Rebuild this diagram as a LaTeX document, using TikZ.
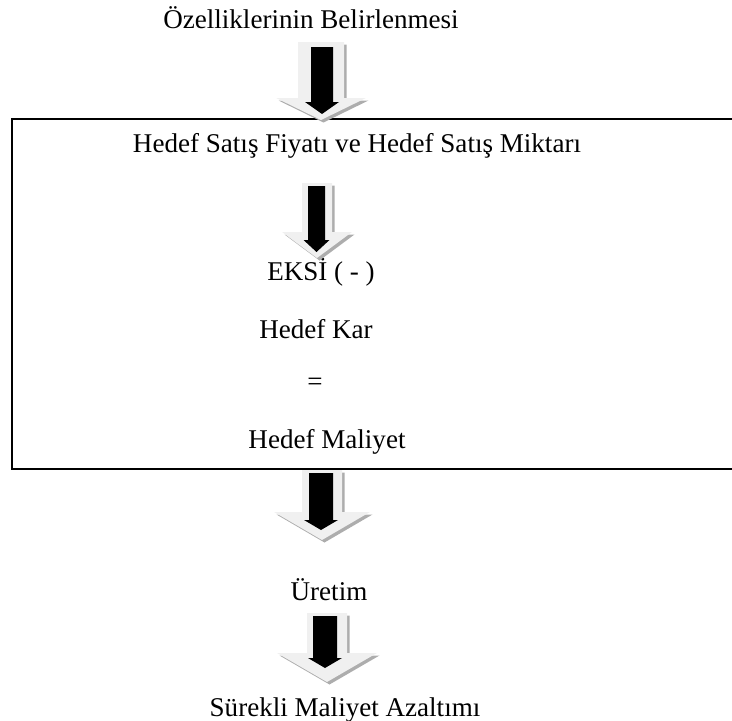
\documentclass[tikz,border=0pt]{standalone}
\usepackage{fontspec}
\setmainfont{Liberation Serif}
\begin{document}
% block arrow: #1 cx, #2 top, #3 head start, #4 tip, #5 shaft half width, #6 head half width
\newcommand\blockpath[6]{(#1-#5,#2) -- (#1+#5,#2) -- (#1+#5,#3) -- (#1+#6,#3) -- (#1,#4) -- (#1-#6,#3) -- (#1-#5,#3) -- cycle}
\newcommand\flowarrow[2]{%
  \fill[arrowshadow,shift={(2.5,2.5)}] \blockpath#1;
  \fill[arrowouter] \blockpath#1;
  \fill[arrowinner] \blockpath#2;}
\begin{tikzpicture}[x=0.75pt,y=-0.75pt,
  arrowouter/.style={fill=black!6},
  arrowshadow/.style={fill=black!32},
  arrowinner/.style={fill=black},
  frame/.style={draw=black,line width=1.5pt},
  lbl/.style={inner sep=0pt,font=\fontsize{20.3}{24}\selectfont}]
\useasboundingbox (0,0) rectangle (732,721);
% labels
\node[lbl] (ozel) at (311,18) {Özelliklerinin Belirlenmesi};
\node[lbl] (satis) at (357,146) {Hedef Satış Fiyatı ve Hedef Satış Miktarı};
\node[lbl] (eksi) at (321,272) {EKSİ ( - )};
\node[lbl] (kar) at (316,329) {Hedef Kar};
\node[lbl] (esit) at (315,384) {=};
\node[lbl] (maliyet) at (327,442) {Hedef Maliyet};
\node[lbl] (uretim) at (329,590) {Üretim};
\node[lbl] (surekli) at (345,710) {Sürekli Maliyet Azaltımı};
% open frame running off to the right
\draw[frame] (740,119) -- (12,119) -- (12,469) -- (740,469);
% block arrows
\flowarrow{{321}{42}{98}{120}{23}{45}}{{322}{47}{102}{114}{11}{17}}
\flowarrow{{317}{183}{232}{258}{15}{35}}{{316.5}{186}{240}{252}{8.5}{13}}
\flowarrow{{322}{470}{512}{540}{20}{48}}{{321}{473}{520}{530}{12}{17}}
\flowarrow{{327}{613}{653}{682}{20}{50}}{{325}{616}{658}{668}{12}{17}}
\end{tikzpicture}
\end{document}
